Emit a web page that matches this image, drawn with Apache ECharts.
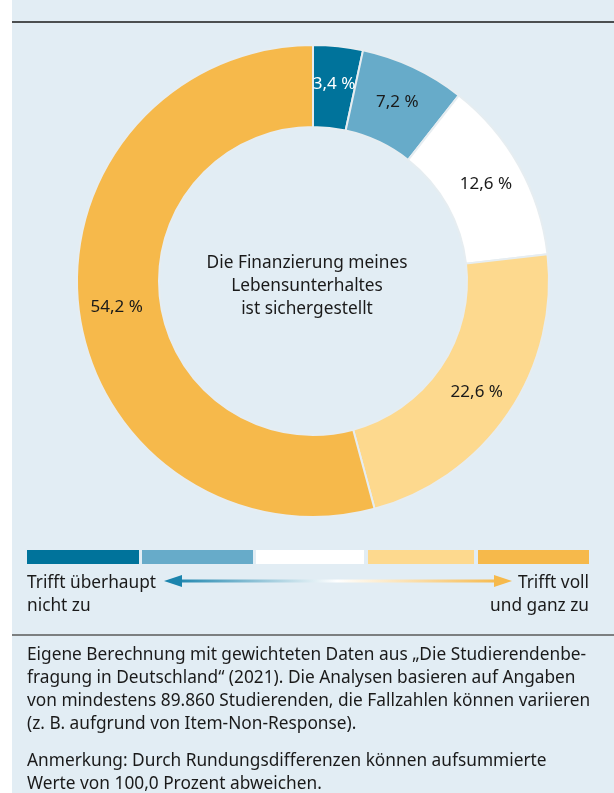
<!DOCTYPE html>
<html><head><meta charset="utf-8">
<script src="https://cdn.jsdelivr.net/npm/echarts@6/dist/echarts.min.js"></script>
<style>html,body{margin:0;padding:0;background:#fff;}#c{width:614px;height:793px;}</style>
</head><body><div id="c"></div>
<script>
const categories = ['Trifft überhaupt nicht zu','2','3','4','Trifft voll und ganz zu'];
const values = [3.4, 7.2, 12.6, 22.6, 54.2];
const colors = ['#00739b','#67abc9','#ffffff','#fdd98e','#f6b94b'];
const labelColors = ['#ffffff','#1a1a1a','#1a1a1a','#1a1a1a','#1a1a1a'];
const centerText = 'Die Finanzierung meines\nLebensunterhaltes\nist sichergestellt';
const footerLines = [
  'Eigene Berechnung mit gewichteten Daten aus „Die Studierendenbe-',
  'fragung in Deutschland“ (2021). Die Analysen basieren auf Angaben',
  'von mindestens 89.860 Studierenden, die Fallzahlen können variieren',
  '(z. B. aufgrund von Item-Non-Response).'
];
const noteLines = [
  'Anmerkung: Durch Rundungsdifferenzen können aufsummierte',
  'Werte von 100,0 Prozent abweichen.'
];
const FONT = '"Noto Sans", sans-serif';
const FS = 17.3;
const chart = echarts.init(document.getElementById('c'));
const bg = '#e2edf4';
const graphics = [
  {type:'rect', z:-10, shape:{x:12,y:0,width:602,height:793}, style:{fill:bg}},
  {type:'line', shape:{x1:12,y1:22,x2:614,y2:22}, style:{stroke:'#1a1a1a',lineWidth:1.5}},
  {type:'line', shape:{x1:12,y1:635,x2:614,y2:635}, style:{stroke:'#5a5a5a',lineWidth:1.5}},
  {type:'text', left:'center', top:252, style:{text:centerText, font:FS+'px '+FONT, fill:'#1a1a1a', textAlign:'center', lineHeight:23}}
];
// legend bars
const barX = [27,142,256,368,478], barW = [112,111,108,106,111];
colors.forEach((c,i)=>{
  graphics.push({type:'rect', shape:{x:barX[i], y:550, width:barW[i], height:14}, style:{fill:c}});
});
// arrow
graphics.push({type:'line', shape:{x1:176,y1:581,x2:498,y2:581}, style:{lineWidth:3, stroke:new echarts.graphic.LinearGradient(0,0,1,0,[{offset:0,color:'#1b84ad'},{offset:0.5,color:'#ffffff'},{offset:1,color:'#f6b94b'}])}});
graphics.push({type:'polygon', shape:{points:[[164,581],[182,575],[182,587]]}, style:{fill:'#1b84ad'}});
graphics.push({type:'polygon', shape:{points:[[512,581],[494,575],[494,587]]}, style:{fill:'#f6b94b'}});
graphics.push({type:'text', left:27, top:572, style:{text:'Trifft überhaupt\nnicht zu', font:FS+'px '+FONT, fill:'#1a1a1a', lineHeight:23}});
graphics.push({type:'text', right:25, top:572, style:{text:'Trifft voll\nund ganz zu', font:FS+'px '+FONT, fill:'#1a1a1a', lineHeight:23, textAlign:'right'}});
graphics.push({type:'text', left:27, top:643, style:{text:footerLines.join('\n'), font:FS+'px '+FONT, fill:'#1a1a1a', lineHeight:23.3}});
graphics.push({type:'text', left:27, top:749, style:{text:noteLines.join('\n'), font:FS+'px '+FONT, fill:'#1a1a1a', lineHeight:23.3}});

chart.setOption({
  backgroundColor:'#ffffff',
  animation:false,
  graphic: graphics,
  series:[{
    type:'pie',
    center:[313,281],
    radius:[154,236],
    startAngle:90,
    clockwise:true,
    avoidLabelOverlap:false,
    itemStyle:{borderColor:'#e6edf1', borderWidth:2},
    label:{show:true, position:'inside', fontSize:17, fontFamily:FONT,
      formatter:p=>p.value.toFixed(1).replace('.',',')+' %'},
    labelLine:{show:false},
    emphasis:{disabled:true},
    data: values.map((v,i)=>({name:categories[i], value:v, itemStyle:{color:colors[i]}, label:{color:labelColors[i]}}))
  }]
});
</script></body></html>
